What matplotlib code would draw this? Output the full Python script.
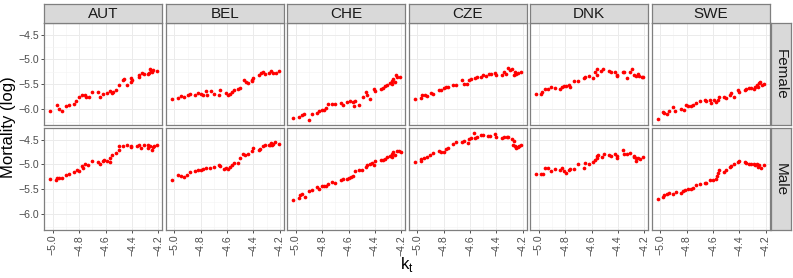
import matplotlib
matplotlib.use("Agg")
import matplotlib.pyplot as plt

plt.rcParams['font.family'] = ['Liberation Sans', 'DejaVu Sans']

countries = ["AUT", "BEL", "CHE", "CZE", "DNK", "SWE"]
sexes = ["Female", "Male"]
x_ticks = [-5.0, -4.8, -4.6, -4.4, -4.2]
x_tick_labels = ["\u22125.0", "\u22124.8", "\u22124.6", "\u22124.4", "\u22124.2"]
y_ticks = [-4.5, -5.0, -5.5, -6.0]
y_tick_labels = ["\u22124.5", "\u22125.0", "\u22125.5", "\u22126.0"]

# ---------------- Female ----------------
aut_f_kt = [-5.02, -4.97, -4.95, -4.93, -4.90, -4.88, -4.84, -4.825, -4.805, -4.78, -4.76, -4.75, -4.725, -4.70,
            -4.66, -4.64, -4.62, -4.59, -4.57, -4.555, -4.545, -4.52, -4.50, -4.47, -4.46, -4.44, -4.41, -4.405,
            -4.40, -4.35, -4.35, -4.325, -4.31, -4.28, -4.27, -4.26, -4.255, -4.245, -4.24, -4.21]
aut_f_y = [-6.04, -5.92, -5.99, -6.03, -5.93, -5.91, -5.89, -5.84, -5.75, -5.71, -5.72, -5.75, -5.75, -5.65,
           -5.65, -5.76, -5.69, -5.67, -5.64, -5.67, -5.65, -5.61, -5.52, -5.42, -5.40, -5.51, -5.45, -5.37,
           -5.42, -5.32, -5.35, -5.27, -5.29, -5.29, -5.27, -5.19, -5.23, -5.26, -5.22, -5.24]

bel_f_kt = [-5.02, -4.975, -4.95, -4.93, -4.90, -4.88, -4.84, -4.82, -4.80, -4.78, -4.76, -4.75, -4.725, -4.70,
            -4.66, -4.65, -4.61, -4.59, -4.58, -4.56, -4.55, -4.52, -4.50, -4.475, -4.46, -4.44, -4.41, -4.405,
            -4.41, -4.36, -4.345, -4.33, -4.31, -4.28, -4.265, -4.255, -4.23, -4.21]
bel_f_y = [-5.80, -5.77, -5.73, -5.75, -5.71, -5.69, -5.71, -5.67, -5.69, -5.72, -5.63, -5.71, -5.63, -5.69,
           -5.72, -5.62, -5.67, -5.72, -5.69, -5.65, -5.61, -5.59, -5.57, -5.42, -5.46, -5.47, -5.41, -5.37,
           -5.43, -5.32, -5.27, -5.25, -5.29, -5.27, -5.23, -5.27, -5.28, -5.24]

che_f_kt = [-5.02, -4.975, -4.955, -4.935, -4.90, -4.88, -4.84, -4.825, -4.805, -4.785, -4.77, -4.755, -4.725,
            -4.70, -4.66, -4.64, -4.61, -4.59, -4.57, -4.56, -4.55, -4.52, -4.49, -4.47, -4.46, -4.44, -4.41,
            -4.40, -4.355, -4.34, -4.32, -4.305, -4.285, -4.27, -4.27, -4.26, -4.25, -4.24, -4.23, -4.21]
che_f_y = [-6.17, -6.15, -6.12, -6.10, -6.22, -6.10, -6.07, -6.03, -6.02, -6.01, -5.98, -5.90, -5.90,
           -5.89, -5.87, -5.92, -5.85, -5.84, -5.85, -5.93, -5.83, -5.91, -5.76, -5.66, -5.72, -5.80, -5.60,
           -5.64, -5.59, -5.57, -5.53, -5.52, -5.48, -5.43, -5.49, -5.39, -5.45, -5.31, -5.35, -5.35]

cze_f_kt = [-5.02, -4.975, -4.965, -4.945, -4.93, -4.895, -4.88, -4.835, -4.82, -4.80, -4.785, -4.765, -4.73,
            -4.71, -4.66, -4.645, -4.62, -4.61, -4.59, -4.565, -4.55, -4.515, -4.50, -4.48, -4.455, -4.44,
            -4.41, -4.40, -4.355, -4.345, -4.33, -4.31, -4.30, -4.28, -4.27, -4.26, -4.255, -4.24, -4.21]
cze_f_y = [-5.79, -5.77, -5.71, -5.72, -5.73, -5.67, -5.69, -5.62, -5.61, -5.57, -5.55, -5.55, -5.52,
           -5.51, -5.42, -5.49, -5.49, -5.41, -5.39, -5.37, -5.35, -5.35, -5.31, -5.33, -5.29, -5.29,
           -5.27, -5.31, -5.31, -5.25, -5.29, -5.17, -5.21, -5.19, -5.32, -5.26, -5.29, -5.27, -5.25]

dnk_f_kt = [-5.02, -4.98, -4.975, -4.955, -4.93, -4.905, -4.88, -4.84, -4.825, -4.805, -4.79, -4.77, -4.76,
            -4.73, -4.705, -4.66, -4.65, -4.62, -4.59, -4.575, -4.56, -4.555, -4.53, -4.51, -4.47, -4.45,
            -4.42, -4.41, -4.41, -4.36, -4.35, -4.33, -4.31, -4.29, -4.28, -4.26, -4.25, -4.24, -4.22, -4.21]
dnk_f_y = [-5.70, -5.70, -5.65, -5.59, -5.60, -5.55, -5.57, -5.59, -5.56, -5.54, -5.53, -5.51, -5.55,
           -5.43, -5.44, -5.37, -5.35, -5.33, -5.37, -5.25, -5.31, -5.20, -5.23, -5.19, -5.23, -5.25,
           -5.25, -5.31, -5.34, -5.25, -5.25, -5.38, -5.25, -5.19, -5.31, -5.33, -5.29, -5.34, -5.35, -5.36]

swe_f_kt = [-5.02, -4.98, -4.97, -4.95, -4.93, -4.90, -4.885, -4.84, -4.82, -4.805, -4.79, -4.765, -4.75,
            -4.73, -4.70, -4.66, -4.65, -4.62, -4.615, -4.59, -4.58, -4.565, -4.555, -4.515, -4.50, -4.47,
            -4.46, -4.44, -4.41, -4.40, -4.36, -4.35, -4.33, -4.31, -4.29, -4.28, -4.27, -4.26, -4.25, -4.24,
            -4.23, -4.21]
swe_f_y = [-6.19, -6.05, -6.07, -6.09, -6.04, -5.96, -6.04, -5.99, -6.01, -5.91, -5.93, -5.93, -5.91,
           -5.87, -5.84, -5.82, -5.84, -5.81, -5.87, -5.82, -5.85, -5.81, -5.76, -5.75, -5.77, -5.71,
           -5.68, -5.75, -5.62, -5.65, -5.61, -5.59, -5.58, -5.57, -5.59, -5.55, -5.52, -5.56, -5.47, -5.45,
           -5.51, -5.50]

# ---------------- Male ----------------
aut_m_kt = [-5.02, -4.975, -4.97, -4.95, -4.93, -4.90, -4.88, -4.84, -4.82, -4.805, -4.78, -4.77, -4.755,
            -4.73, -4.70, -4.66, -4.645, -4.62, -4.61, -4.59, -4.57, -4.565, -4.55, -4.52, -4.50, -4.495,
            -4.47, -4.44, -4.41, -4.405, -4.36, -4.35, -4.33, -4.31, -4.28, -4.275, -4.26, -4.25, -4.24,
            -4.23, -4.21]
aut_m_y = [-5.29, -5.32, -5.28, -5.28, -5.28, -5.21, -5.20, -5.15, -5.11, -5.13, -5.03, -5.07, -4.99,
           -5.02, -4.94, -4.95, -5.00, -4.93, -4.91, -4.93, -4.95, -4.88, -4.81, -4.77, -4.71, -4.64,
           -4.63, -4.61, -4.65, -4.63, -4.63, -4.61, -4.67, -4.61, -4.60, -4.67, -4.63, -4.71, -4.65,
           -4.63, -4.61]

bel_m_kt = [-5.02, -4.975, -4.95, -4.93, -4.905, -4.88, -4.84, -4.82, -4.80, -4.78, -4.76, -4.73, -4.70,
            -4.66, -4.65, -4.62, -4.605, -4.59, -4.575, -4.565, -4.55, -4.52, -4.50, -4.48, -4.465, -4.44,
            -4.41, -4.405, -4.36, -4.35, -4.33, -4.31, -4.28, -4.275, -4.27, -4.26, -4.25, -4.24, -4.21]
bel_m_y = [-5.31, -5.21, -5.23, -5.25, -5.22, -5.15, -5.13, -5.12, -5.11, -5.09, -5.07, -5.07, -5.05,
           -5.01, -5.04, -5.10, -5.07, -5.09, -5.05, -5.02, -4.97, -4.98, -4.88, -4.80, -4.82, -4.80,
           -4.73, -4.68, -4.71, -4.69, -4.64, -4.60, -4.62, -4.60, -4.56, -4.61, -4.58, -4.55, -4.59]

che_m_kt = [-5.02, -4.975, -4.97, -4.95, -4.93, -4.90, -4.88, -4.84, -4.825, -4.805, -4.785, -4.77, -4.755,
            -4.725, -4.70, -4.66, -4.64, -4.61, -4.60, -4.58, -4.57, -4.55, -4.52, -4.50, -4.47, -4.46,
            -4.44, -4.42, -4.41, -4.40, -4.355, -4.34, -4.325, -4.305, -4.285, -4.27, -4.27, -4.26, -4.25,
            -4.235, -4.22, -4.205]
che_m_y = [-5.71, -5.68, -5.61, -5.60, -5.65, -5.53, -5.51, -5.45, -5.49, -5.44, -5.43, -5.44, -5.40,
           -5.35, -5.38, -5.31, -5.29, -5.30, -5.27, -5.25, -5.24, -5.14, -5.12, -5.12, -5.05, -5.02,
           -5.00, -4.98, -5.02, -4.93, -4.92, -4.91, -4.90, -4.85, -4.83, -4.79, -4.85, -4.75, -4.81,
           -4.73, -4.73, -4.75]

cze_m_kt = [-5.02, -4.97, -4.97, -4.95, -4.93, -4.90, -4.88, -4.835, -4.82, -4.80, -4.78, -4.765, -4.73,
            -4.71, -4.66, -4.645, -4.615, -4.61, -4.59, -4.57, -4.56, -4.55, -4.515, -4.50, -4.465, -4.45,
            -4.41, -4.40, -4.36, -4.34, -4.32, -4.31, -4.28, -4.275, -4.27, -4.26, -4.255, -4.25, -4.24,
            -4.23, -4.21]
cze_m_y = [-4.95, -4.93, -4.90, -4.88, -4.85, -4.82, -4.78, -4.73, -4.75, -4.75, -4.70, -4.68, -4.58,
           -4.55, -4.55, -4.52, -4.57, -4.48, -4.47, -4.37, -4.46, -4.45, -4.41, -4.41, -4.42, -4.43,
           -4.39, -4.45, -4.47, -4.45, -4.45, -4.45, -4.48, -4.60, -4.53, -4.63, -4.65, -4.68, -4.65,
           -4.63, -4.60]

dnk_m_kt = [-5.02, -4.98, -4.97, -4.95, -4.93, -4.905, -4.88, -4.84, -4.825, -4.81, -4.79, -4.77, -4.76,
            -4.73, -4.705, -4.66, -4.65, -4.62, -4.59, -4.575, -4.56, -4.555, -4.55, -4.52, -4.505, -4.47,
            -4.45, -4.42, -4.41, -4.405, -4.36, -4.35, -4.33, -4.31, -4.28, -4.275, -4.26, -4.26, -4.245,
            -4.23, -4.21]
dnk_m_y = [-5.19, -5.20, -5.19, -5.07, -5.08, -5.14, -5.10, -5.11, -5.07, -5.13, -5.17, -5.11, -5.09,
           -5.09, -5.00, -5.07, -4.97, -5.00, -4.95, -4.91, -4.87, -4.83, -4.81, -4.85, -4.80, -4.81,
           -4.83, -4.80, -4.83, -4.87, -4.72, -4.80, -4.79, -4.77, -4.83, -4.85, -4.87, -4.93, -4.88,
           -4.90, -4.85]

swe_m_kt = [-5.02, -4.98, -4.97, -4.95, -4.93, -4.90, -4.88, -4.84, -4.825, -4.81, -4.79, -4.77, -4.755,
            -4.73, -4.70, -4.66, -4.65, -4.62, -4.60, -4.58, -4.57, -4.565, -4.555, -4.52, -4.50, -4.47,
            -4.46, -4.44, -4.41, -4.405, -4.36, -4.35, -4.33, -4.31, -4.29, -4.28, -4.27, -4.26, -4.25,
            -4.235, -4.21]
swe_m_y = [-5.70, -5.65, -5.61, -5.60, -5.57, -5.59, -5.55, -5.57, -5.53, -5.52, -5.50, -5.49, -5.47,
           -5.41, -5.39, -5.38, -5.37, -5.31, -5.31, -5.29, -5.23, -5.18, -5.12, -5.15, -5.12, -5.05,
           -5.03, -5.00, -4.95, -4.93, -4.95, -4.97, -4.99, -4.99, -5.00, -5.02, -4.99, -5.05, -5.02,
           -5.08, -5.02]

data = {
    ("AUT", "Female"): (aut_f_kt, aut_f_y), ("BEL", "Female"): (bel_f_kt, bel_f_y),
    ("CHE", "Female"): (che_f_kt, che_f_y), ("CZE", "Female"): (cze_f_kt, cze_f_y),
    ("DNK", "Female"): (dnk_f_kt, dnk_f_y), ("SWE", "Female"): (swe_f_kt, swe_f_y),
    ("AUT", "Male"): (aut_m_kt, aut_m_y), ("BEL", "Male"): (bel_m_kt, bel_m_y),
    ("CHE", "Male"): (che_m_kt, che_m_y), ("CZE", "Male"): (cze_m_kt, cze_m_y),
    ("DNK", "Male"): (dnk_m_kt, dnk_m_y), ("SWE", "Male"): (swe_m_kt, swe_m_y),
}

W, H = 793, 278
fig = plt.figure(figsize=(W / 100, H / 100), dpi=100)

left0, step, pw = 44.3, 121.48, 118.0
row_tops = [23.3, 128.3]
ph = 101.7
border_col = "#7F7F7F"
strip_fill = "#D9D9D9"
tick_col = "#4D4D4D"

def frac(x, y, w, h):
    return [x / W, 1 - (y + h) / H, w / W, h / H]

for r, sex in enumerate(sexes):
    for c, cn in enumerate(countries):
        x0 = left0 + c * step
        ax = fig.add_axes(frac(x0, row_tops[r], pw, ph))
        kt, yv = data[(cn, sex)]
        ax.scatter(kt, yv, s=7, color="#FF0000", linewidths=0, zorder=3)
        ax.set_xlim(-5.065, -4.17)
        ax.set_ylim(-6.315, -4.275)
        ax.set_xticks(x_ticks)
        ax.set_yticks(y_ticks)
        ax.set_xticks([-4.9, -4.7, -4.5, -4.3], minor=True)
        ax.set_yticks([-4.75, -5.25, -5.75, -6.25], minor=True)
        ax.grid(which="major", color="#EBEBEB", lw=0.7, zorder=0)
        ax.grid(which="minor", color="#F4F4F4", lw=0.4, zorder=0)
        ax.set_axisbelow(True)
        for sp in ax.spines.values():
            sp.set_color(border_col)
            sp.set_linewidth(0.9)
        ax.tick_params(which="major", length=2.5, width=0.6, color="#333333",
                       labelsize=7.6, labelcolor=tick_col, pad=1.0)
        ax.tick_params(which="minor", length=0)
        if r == 1:
            ax.set_xticklabels(x_tick_labels, rotation=90)
        else:
            ax.tick_params(axis="x", which="major", labelbottom=False, length=0)
        if c == 0:
            ax.set_yticklabels(y_tick_labels)
        else:
            ax.tick_params(axis="y", which="major", labelleft=False, length=0)

        # top strips
        if r == 0:
            sax = fig.add_axes(frac(x0, 3.5, pw, 19.8))
            sax.set_xticks([]); sax.set_yticks([])
            sax.set_facecolor(strip_fill)
            for sp in sax.spines.values():
                sp.set_color(border_col); sp.set_linewidth(0.9)
            sax.text(0.5, 0.45, cn, ha="center", va="center", fontsize=11, color="#1A1A1A",
                     transform=sax.transAxes)

    # right strips
    rax = fig.add_axes(frac(771.0, row_tops[r], 19.5, ph))
    rax.set_xticks([]); rax.set_yticks([])
    rax.set_facecolor(strip_fill)
    for sp in rax.spines.values():
        sp.set_color(border_col); sp.set_linewidth(0.9)
    rax.text(0.5, 0.5, sex, ha="center", va="center", rotation=-90, fontsize=11,
             color="#1A1A1A", transform=rax.transAxes)

fig.text(8.5 / W, 1 - 126.7 / H, "Mortality (log)", rotation=90, ha="center", va="center",
         fontsize=12, color="black")
fig.text(407 / W, 1 - 264 / H, r"k$_\mathregular{t}$", ha="center", va="center",
         fontsize=12, color="black")

fig.savefig("out.png", dpi=100, facecolor="white")
